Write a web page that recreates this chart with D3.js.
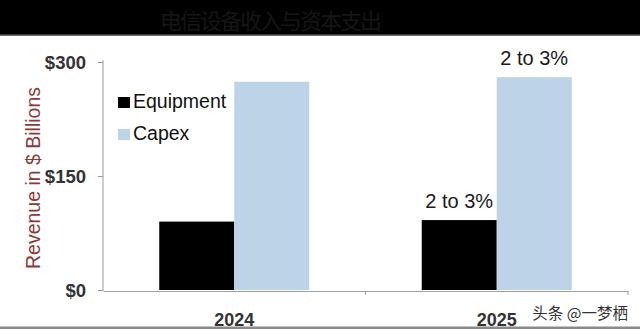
<!DOCTYPE html>
<html>
<head>
<meta charset="utf-8">
<script src="https://cdn.jsdelivr.net/npm/d3@7/dist/d3.min.js"></script>
<style>
  html, body { margin: 0; padding: 0; background: #fff; }
  svg { display: block; }
</style>
</head>
<body>
<svg id="chart" width="640" height="329"></svg>
<script>
// Telecom equipment revenue vs. capex, $ billions
const title = "电信设备收入与资本支出";
const years = ["2024", "2025"];
const seriesNames = ["Equipment", "Capex"];
const equipment = [90, 92];
const capex = [274, 280];
const growthLabels = [null, "2 to 3%"];   // growth labels shown over 2025 bars
const yTicks = [0, 150, 300];
const yAxisTitle = "Revenue in $ Billions";
const watermark = "头条 @一梦栖";

const colors = { Equipment: "#000000", Capex: "#bcd3e8" };

const W = 640, H = 329;
const svg = d3.select("#chart");

// header band
svg.append("rect").attr("x", 0).attr("y", 0).attr("width", W).attr("height", 35).attr("fill", "#000");
svg.append("rect").attr("x", 0).attr("y", 34.5).attr("width", W).attr("height", 1.5).attr("fill", "#6e6e6e");
svg.append("text")
  .attr("x", 271).attr("y", 29)
  .attr("text-anchor", "middle")
  .attr("font-family", "'Noto Sans CJK SC', sans-serif")
  .attr("font-size", 22)
  .attr("fill", "#161616")
  .attr("textLength", 222)
  .text(title);

// bottom rule
svg.append("rect").attr("x", 0).attr("y", 326.5).attr("width", W).attr("height", 2.5).attr("fill", "#8a8a8a");

const x0 = d3.scaleBand().domain(years).range([103, 628]).paddingInner(0).paddingOuter(0);
const x1 = d3.scaleBand().domain(seriesNames).range([0, x0.bandwidth()]).paddingInner(0).paddingOuter(0.75);
const y = d3.scaleLinear().domain([0, 300]).range([290, 62]);

const rows = years.map((yr, i) => ({ year: yr, values: [
  { key: "Equipment", value: equipment[i], label: growthLabels[i] },
  { key: "Capex", value: capex[i], label: growthLabels[i] }
]}));

const g = svg.append("g");
const groups = g.selectAll("g.year").data(rows).join("g")
  .attr("transform", d => `translate(${x0(d.year)},0)`);

groups.selectAll("rect").data(d => d.values).join("rect")
  .attr("x", d => x1(d.key))
  .attr("y", d => y(d.value))
  .attr("width", x1.bandwidth())
  .attr("height", d => y(0) - y(d.value))
  .attr("fill", d => colors[d.key]);

groups.selectAll("text.lbl").data(d => d.values.filter(v => v.label)).join("text")
  .attr("class", "lbl")
  .attr("x", d => x1(d.key) + x1.bandwidth() / 2)
  .attr("y", d => y(d.value) - 12)
  .attr("text-anchor", "middle")
  .attr("font-family", "Liberation Sans, Arial, sans-serif")
  .attr("font-size", 20)
  .attr("fill", "#1a1a1a")
  .text(d => d.label);

// y axis
const yAxis = d3.axisLeft(y).tickValues(yTicks).tickSize(5).tickPadding(12).tickFormat(d => "$" + d);
const ya = svg.append("g").attr("transform", "translate(103,0)").call(yAxis);
ya.select(".domain").attr("stroke", "#9a9a9a").attr("d", "M0,60V291");
ya.selectAll(".tick line").attr("stroke", "#9a9a9a");
ya.selectAll(".tick text")
  .attr("font-family", "Liberation Sans, Arial, sans-serif")
  .attr("font-size", 18.5)
  .attr("font-weight", "bold")
  .attr("fill", "#333")
  .attr("dy", "0.35em");

// x axis
const xa = svg.append("g").attr("transform", "translate(0,291)")
  .call(d3.axisBottom(x0).tickSize(0).tickPadding(22));
xa.select(".domain").attr("stroke", "#a0a0a0");
xa.selectAll(".tick text")
  .attr("font-family", "Liberation Sans, Arial, sans-serif")
  .attr("font-size", 18)
  .attr("font-weight", "bold")
  .attr("fill", "#333");
// category boundary ticks
xa.selectAll("line.sep").data(x0.domain().map(d => x0(d) + x0.bandwidth()))
  .join("line").attr("class", "sep")
  .attr("x1", d => d).attr("x2", d => d).attr("y1", 0).attr("y2", 4)
  .attr("stroke", "#a0a0a0");

// y axis title
svg.append("text")
  .attr("transform", "translate(40,178) rotate(-90)")
  .attr("text-anchor", "middle")
  .attr("font-family", "Liberation Sans, Arial, sans-serif")
  .attr("font-size", 19.5)
  .attr("fill", "#8b3a3a")
  .text(yAxisTitle);

// legend
const legend = svg.append("g").attr("transform", "translate(118,96)");
seriesNames.forEach((name, i) => {
  const row = legend.append("g").attr("transform", `translate(0,${i * 32})`);
  row.append("rect").attr("y", 1).attr("width", 12).attr("height", 11).attr("fill", colors[name]);
  row.append("text").attr("x", 15).attr("y", 12)
    .attr("font-family", "Liberation Sans, Arial, sans-serif")
    .attr("font-size", 19.5)
    .attr("fill", "#111")
    .text(name);
});

// watermark
svg.append("text")
  .attr("x", 628).attr("y", 319)
  .attr("text-anchor", "end")
  .attr("font-family", "'Noto Sans CJK SC', sans-serif")
  .attr("font-size", 15.5)
  .attr("fill", "#333")
  .text(watermark);
</script>
</body>
</html>
